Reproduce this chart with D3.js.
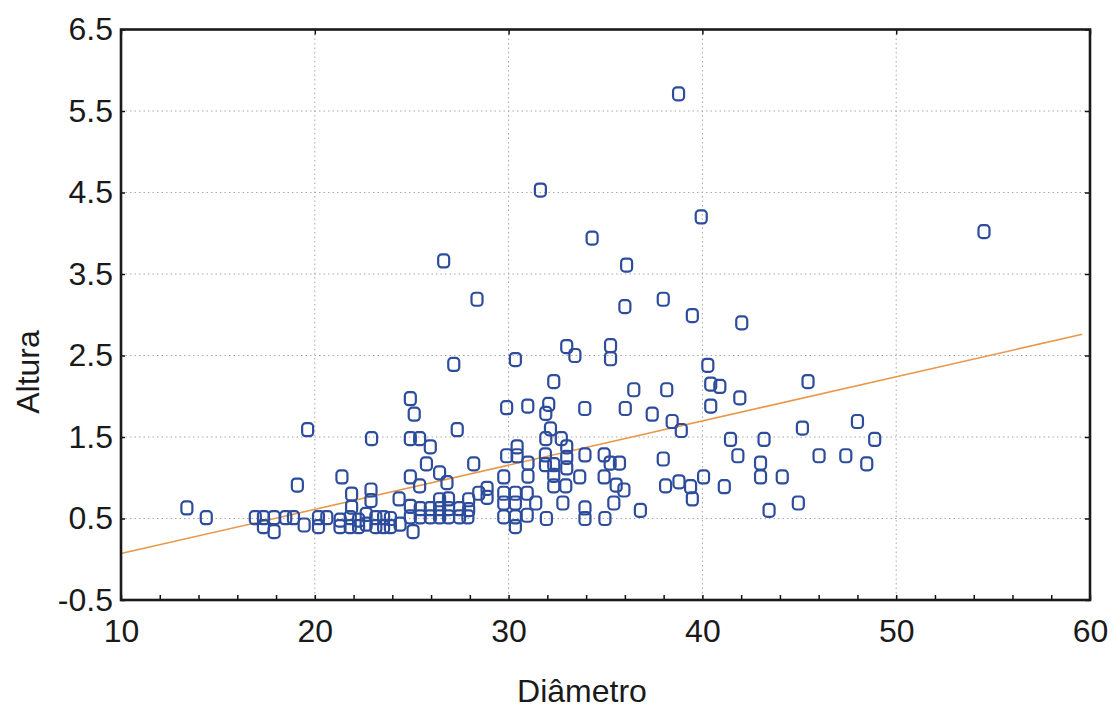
<!DOCTYPE html>
<html>
<head>
<meta charset="utf-8">
<script src="https://cdn.jsdelivr.net/npm/d3@7"></script>
<style>
  html, body { margin: 0; padding: 0; background: #ffffff; }
  svg { display: block; }
  text { font-family: "Liberation Sans", Arial, sans-serif; fill: #1a1a1a; }
</style>
</head>
<body>
<svg id="chart" width="1118" height="712"></svg>
<script>
// ---- data ----
const diametro = [
  13.4, 14.4,
  16.93, 17.35, 17.35, 17.9, 17.9, 18.5, 18.9, 19.1, 19.45, 19.63,
  20.19, 20.19, 20.62, 21.4, 21.31, 21.3, 21.83, 21.83, 21.9, 21.9,
  22.26, 22.26, 22.65, 22.65, 22.93, 22.9, 22.9, 23.15, 23.15, 23.55, 23.55,
  23.9, 23.9, 24.35, 24.4,
  24.93, 25.13, 24.93, 25.41, 25.96, 25.76, 24.93, 25.41, 24.93, 24.93, 25.07,
  25.44, 25.44, 25.96, 25.96, 26.44, 26.82, 26.44, 26.44, 26.44, 26.9, 26.9, 26.9,
  27.17, 27.35, 27.47, 27.47, 27.94, 27.94, 27.9, 28.2, 28.46, 28.89, 28.89,
  26.65, 28.37,
  29.75, 29.75, 29.75, 29.9, 29.9, 29.75, 30.35, 30.44, 30.44, 30.35, 30.35, 30.35, 30.35,
  30.99, 31.0, 31.0, 30.96, 30.96, 31.4, 31.64, 31.95, 32.07, 31.92, 32.16, 31.92,
  31.9, 31.9, 32.33, 32.33, 32.33, 32.33, 32.72, 33.0, 33.0, 33.0, 32.95, 32.8,
  33.0, 33.42, 33.67, 33.93, 33.94, 33.94, 33.94, 34.31, 34.93, 34.93, 34.97,
  35.24, 35.72, 35.26, 35.26, 35.55, 35.95, 35.43, 36.0, 36.09, 36.02, 36.46, 36.8,
  37.41, 37.98, 37.98, 38.1, 38.16, 38.44, 38.77, 38.79, 38.91, 39.39, 39.48, 39.48,
  39.94, 40.06, 40.28, 40.43, 40.43, 40.9, 41.13, 41.45, 41.83, 41.93, 42.03,
  43.0, 43.0, 43.18, 43.44, 44.12, 44.95, 45.16, 45.45, 46.02, 47.4, 48.0, 48.48, 48.89,
  54.53
];
const altura = [
  0.63, 0.51,
  0.51, 0.51, 0.40, 0.51, 0.34, 0.51, 0.51, 0.91, 0.42, 1.59,
  0.51, 0.40, 0.51, 1.01, 0.48, 0.40, 0.51, 0.40, 0.80, 0.64,
  0.48, 0.40, 0.55, 0.43, 1.48, 0.85, 0.72, 0.51, 0.40, 0.51, 0.40,
  0.50, 0.40, 0.74, 0.43,
  1.97, 1.78, 1.48, 1.48, 1.38, 1.17, 1.01, 0.90, 0.65, 0.52, 0.34,
  0.62, 0.52, 0.62, 0.52, 1.06, 0.94, 0.73, 0.62, 0.52, 0.74, 0.62, 0.52,
  2.39, 1.59, 0.62, 0.52, 0.73, 0.61, 0.52, 1.17, 0.81, 0.87, 0.76,
  3.66, 3.19,
  0.81, 0.69, 0.52, 1.86, 1.27, 1.01, 2.45, 1.38, 1.27, 0.81, 0.69, 0.52, 0.40,
  1.88, 1.18, 1.02, 0.81, 0.54, 0.69, 4.53, 0.50, 1.90, 1.79, 1.60, 1.48,
  1.28, 1.16, 2.18, 1.16, 1.03, 0.90, 1.48, 1.38, 1.25, 1.12, 0.90, 0.69,
  2.61, 2.50, 1.01, 1.85, 1.28, 0.63, 0.50, 3.94, 1.28, 1.01, 0.50,
  1.18, 1.18, 2.62, 2.46, 0.91, 0.85, 0.69, 3.10, 3.61, 1.85, 2.08, 0.60,
  1.78, 3.19, 1.23, 0.90, 2.08, 1.69, 5.71, 0.95, 1.58, 0.89, 0.74, 2.99,
  4.20, 1.01, 2.38, 2.15, 1.88, 2.12, 0.89, 1.47, 1.27, 1.98, 2.90,
  1.18, 1.01, 1.47, 0.60, 1.01, 0.69, 1.61, 2.18, 1.27, 1.27, 1.69, 1.17, 1.47,
  4.02
];
// fitted regression line end points (as drawn in the reference)
const fitX = [10, 59.6];
const fitY = [0.07, 2.76];

const xTicks = [10, 20, 30, 40, 50, 60];
const xMinorTicks = [10,12,14,16,18,20,22,24,26,28,30,32,34,36,38,40,42,44,46,48,50,52,54,56,58,60];
const yTicks = [-0.5, 0.5, 1.5, 2.5, 3.5, 4.5, 5.5, 6.5];
const yTickLabels = ["-0.5", "0.5", "1.5", "2.5", "3.5", "4.5", "5.5", "6.5"];
const xTitle = "Diâmetro";
const yTitle = "Altura";

// ---- layout ----
const L = 121, R = 1090, T = 29.5, B = 600;
const svg = d3.select("#chart");
const x = d3.scaleLinear().domain([10, 60]).range([L, R]);
const y = d3.scaleLinear().domain([-0.5, 6.5]).range([B, T]);

// gridlines
const grid = svg.append("g").attr("class", "grid");
grid.selectAll("line.gx").data(xTicks.filter(d => d > 10 && d < 60)).enter()
  .append("line").attr("class", "gx")
  .attr("x1", d => x(d)).attr("x2", d => x(d))
  .attr("y1", T).attr("y2", B)
  .attr("stroke", "#a8a8a8").attr("stroke-width", 1).attr("stroke-dasharray", "1.5,3");
grid.selectAll("line.gy").data(yTicks.filter(d => d > -0.5 && d < 6.5)).enter()
  .append("line").attr("class", "gy")
  .attr("x1", L).attr("x2", R)
  .attr("y1", d => y(d)).attr("y2", d => y(d))
  .attr("stroke", "#a8a8a8").attr("stroke-width", 1).attr("stroke-dasharray", "1.5,3");

// regression line
svg.append("path")
  .datum(d3.zip(fitX, fitY))
  .attr("d", d3.line().x(d => x(d[0])).y(d => y(d[1])))
  .attr("fill", "none").attr("stroke", "#e8984a").attr("stroke-width", 1.6);

// points (rounded "o" markers)
const pts = d3.zip(diametro, altura);
const mw = 11, mh = 13;
svg.append("g").selectAll("rect").data(pts).enter().append("rect")
  .attr("x", d => x(d[0]) - mw / 2)
  .attr("y", d => y(d[1]) - mh / 2)
  .attr("width", mw).attr("height", mh)
  .attr("rx", 3.6).attr("ry", 3.6)
  .attr("fill", "none").attr("stroke", "#2d4c9c").attr("stroke-width", 2.2);

// axes
const fs = 32;
const xAxis = d3.axisBottom(x).tickValues(xMinorTicks).tickSize(-5).tickPadding(19)
  .tickFormat(d => (d % 10 === 0 ? d3.format("d")(d) : ""));
const gx = svg.append("g").attr("transform", `translate(0,${B})`).call(xAxis);
gx.select(".domain").remove();
gx.selectAll(".tick line").attr("stroke", "#111").attr("stroke-width", 1.5);
gx.selectAll(".tick text").attr("font-size", fs).attr("fill", "#1a1a1a");

const xTop = d3.axisTop(x).tickValues(xTicks).tickSize(-5).tickFormat("");
const gxt = svg.append("g").attr("transform", `translate(0,${T})`).call(xTop);
gxt.select(".domain").remove();
gxt.selectAll(".tick line").attr("stroke", "#111").attr("stroke-width", 1.5);

const yAxis = d3.axisLeft(y).tickValues(yTicks).tickSize(-4).tickPadding(8)
  .tickFormat((d, i) => yTickLabels[i]);
const gy = svg.append("g").attr("transform", `translate(${L},0)`).call(yAxis);
gy.select(".domain").remove();
gy.selectAll(".tick line").attr("stroke", "#111").attr("stroke-width", 1.5);
gy.selectAll(".tick text").attr("font-size", fs).attr("fill", "#1a1a1a");

const yRight = d3.axisRight(y).tickValues(yTicks).tickSize(-5).tickFormat("");
const gyr = svg.append("g").attr("transform", `translate(${R},0)`).call(yRight);
gyr.select(".domain").remove();
gyr.selectAll(".tick line").attr("stroke", "#111").attr("stroke-width", 1.5);

// frame
svg.append("rect").attr("x", L).attr("y", T).attr("width", R - L).attr("height", B - T)
  .attr("fill", "none").attr("stroke", "#1a1a1a").attr("stroke-width", 2.6);

// titles
svg.append("text").attr("x", 582).attr("y", 702)
  .attr("text-anchor", "middle").attr("font-size", fs).text(xTitle);
svg.append("text").attr("transform", `translate(39,372) rotate(-90)`)
  .attr("text-anchor", "middle").attr("font-size", fs).text(yTitle);
</script>
</body>
</html>
